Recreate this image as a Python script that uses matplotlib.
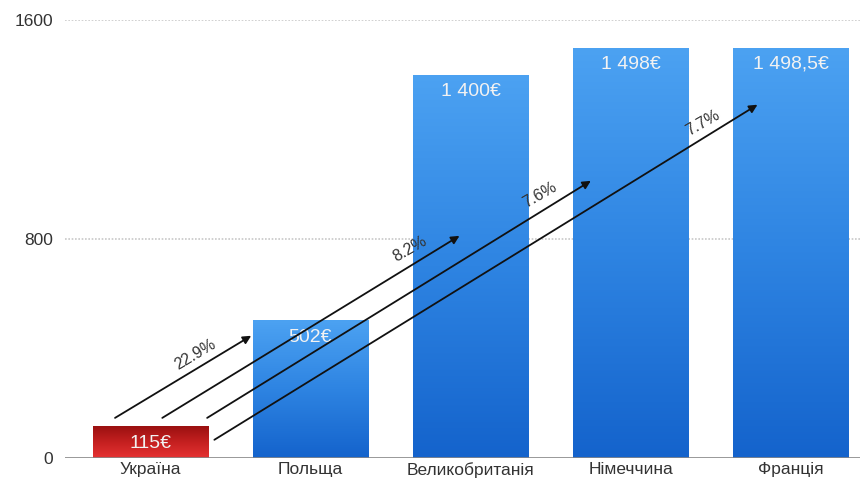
import numpy as np
import matplotlib.pyplot as plt
from matplotlib.colors import LinearSegmentedColormap

plt.rcParams['font.family'] = ['Liberation Sans', 'DejaVu Sans']

countries = ['Україна', 'Польща', 'Великобританія', 'Німеччина', 'Франція']
salaries = [115, 502, 1400, 1498, 1498.5]
value_labels = ['115€', '502€', '1 400€', '1 498€', '1 498,5€']

# growth arrows from the Ukraine bar: label, start (x, y), end (x, y)
growth_labels = ['22.9%', '8.2%', '7.6%', '7.7%']
arrow_start = [(-0.22, 146), (0.075, 146), (0.355, 146), (0.40, 66)]
arrow_end = [(0.63, 446), (1.93, 811), (2.75, 1012), (3.79, 1290)]
label_pos = [(0.28, 378), (1.62, 762), (2.43, 962), (3.45, 1222)]
label_rot = [31, 30, 30, 30]

fig = plt.figure(figsize=(8.6, 4.84), dpi=100)
ax = fig.add_axes([0.076, 0.054, 0.924, 0.905])

x = np.arange(len(countries))
width = 0.72

blue = LinearSegmentedColormap.from_list('blue', ['#1463cc', '#2e84e2', '#4ca2f2'])
red = LinearSegmentedColormap.from_list('red', ['#e63232', '#c42020', '#9a1010'])

grad = np.linspace(0, 1, 256).reshape(-1, 1)
for i, v in enumerate(salaries):
    cmap = red if i == 0 else blue
    bar = ax.bar(x[i], v, width=width, color='none', zorder=2)[0]
    im = ax.imshow(grad, cmap=cmap, aspect='auto', origin='lower',
                   extent=[x[i] - width / 2, x[i] + width / 2, 0, v], zorder=2)
    im.set_clip_path(bar)
    ax.text(x[i], v - 30, value_labels[i], ha='center', va='top',
            color='#f2f2f2', fontsize=14, zorder=4)

for s, e, lbl, p, r in zip(arrow_start, arrow_end, growth_labels, label_pos, label_rot):
    ax.annotate('', xy=e, xytext=s,
                arrowprops=dict(arrowstyle='-|>', color='#111111', lw=1.3,
                                mutation_scale=12, shrinkA=0, shrinkB=0), zorder=5)
    ax.text(p[0], p[1], lbl, rotation=r, ha='center', va='center',
            fontsize=11.5, color='#333333', zorder=5)

ax.set_xlim(-0.53, 4.43)
ax.set_ylim(0, 1600)
ax.set_yticks([0, 800, 1600])
ax.set_xticks(x)
ax.set_xticklabels(countries, fontsize=12.5, color='#333333')
ax.tick_params(axis='y', labelsize=12.5, labelcolor='#333333', length=0, pad=9)
ax.tick_params(axis='x', length=0, pad=3)

for yv in [800, 1600]:
    ax.axhline(yv, color='#c8c8c8', lw=1.2, ls=(0, (1, 1)), zorder=1)
ax.axhline(0, color='#888888', lw=1.2, zorder=3)

for sp in ax.spines.values():
    sp.set_visible(False)

fig.savefig('out.png', dpi=100)
